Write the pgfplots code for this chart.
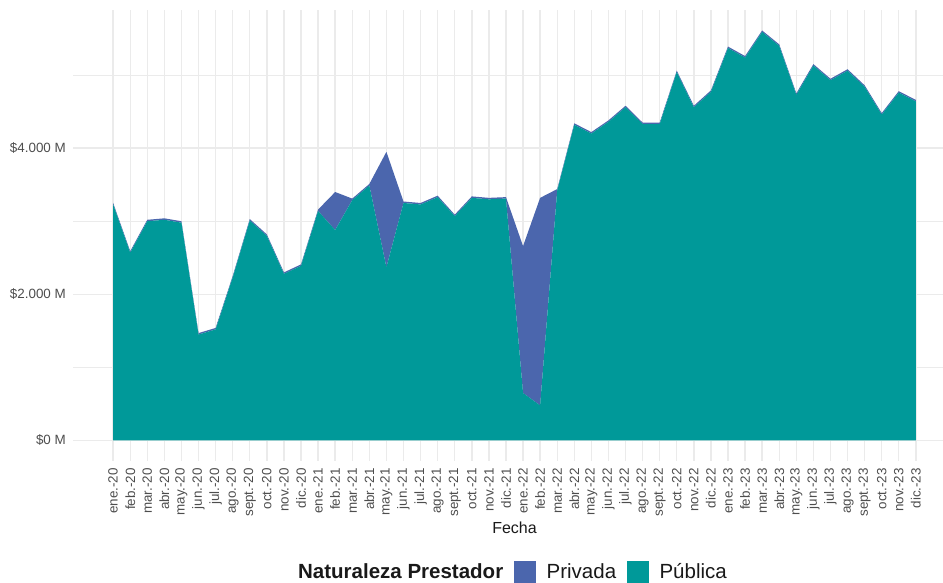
\documentclass[border=0pt]{standalone}
\usepackage{fontspec}
\setmainfont{Liberation Sans}
\usepackage{pgfplots}
\pgfplotsset{compat=1.18}
\usepackage{pgfplotstable}

\definecolor{publica}{RGB}{0,153,153}
\definecolor{privada}{RGB}{75,102,173}
\definecolor{gridgray}{RGB}{235,235,235}
\definecolor{ticktext}{RGB}{77,77,77}

% monto en millones, por mes (ene-20 = 0)
\pgfplotstableread{
idx publica privada
0  3230   20
1  2570   20
2  3000   20
3  3020   20
4  2980   20
5  1450   20
6  1520   20
7  2230   20
8  3010   20
9  2800   20
10 2280   20
11 2390   20
12 3140   20
13 2880  520
14 3290   20
15 3490   20
16 2370 1580
17 3250   20
18 3230   20
19 3330   20
20 3070   20
21 3320   20
22 3300   20
23 3310   20
24  650 2010
25  480 2840
26 3420   20
27 4320   20
28 4200   20
29 4360   20
30 4560   20
31 4330   20
32 4330   20
33 5040   20
34 4560   20
35 4770   20
36 5370   20
37 5240   20
38 5590   20
39 5400   20
40 4730   20
41 5130   20
42 4930   20
43 5060   20
44 4840   20
45 4460   20
46 4760   20
47 4640   20
}\datos

\begin{document}
\begin{tikzpicture}
\begin{axis}[
  at={(73bp,122bp)}, anchor=south west,
  scale only axis,
  width=883bp, height=451bp,
  xmin=-2.35, xmax=49.35,
  ymin=-280.5, ymax=5890.5,
  stack plots=y,
  axis line style={draw=none},
  major tick length=0pt, minor tick length=0pt,
  xtick={0,...,47},
  xticklabels={ene.-20,feb.-20,mar.-20,abr.-20,may.-20,jun.-20,jul.-20,ago.-20,sept.-20,oct.-20,nov.-20,dic.-20,
    ene.-21,feb.-21,mar.-21,abr.-21,may.-21,jun.-21,jul.-21,ago.-21,sept.-21,oct.-21,nov.-21,dic.-21,
    ene.-22,feb.-22,mar.-22,abr.-22,may.-22,jun.-22,jul.-22,ago.-22,sept.-22,oct.-22,nov.-22,dic.-22,
    ene.-23,feb.-23,mar.-23,abr.-23,may.-23,jun.-23,jul.-23,ago.-23,sept.-23,oct.-23,nov.-23,dic.-23},
  ytick={0,2000,4000},
  yticklabels={\$0 M,\$2.000 M,\$4.000 M},
  minor ytick={1000,3000,5000},
  grid=both,
  major grid style={draw=gridgray, line width=1.4bp},
  minor grid style={draw=gridgray, line width=0.8bp},
  tick label style={font=\fontsize{13.4bp}{15bp}\selectfont, text=ticktext, inner sep=0pt},
  xticklabel style={rotate=90, anchor=east},
  xticklabel shift=7bp,
  yticklabel style={anchor=east},
  yticklabel shift=7bp,
  xlabel={Fecha},
  xlabel style={at={(axis description cs:0.5,-0.1486)}, anchor=center,
    font=\fontsize{16bp}{18bp}\selectfont, text=black!90},
  legend columns=-1,
  legend style={at={(axis description cs:0.4915,-0.2461)}, anchor=center,
    draw=none, fill=none, inner sep=0pt,
    font=\fontsize{20.5bp}{24bp}\selectfont, text=black!90,
    nodes={inner sep=0pt},
    /tikz/every odd column/.append style={column sep=11bp},
    /tikz/every even column/.append style={column sep=11bp}},
]
\addplot[fill=publica, draw=none, forget plot] table[x=idx, y=publica] {\datos} \closedcycle;
\addplot[fill=privada, draw=none, forget plot] table[x=idx, y=privada] {\datos} \closedcycle;

\addlegendimage{empty legend}
\addlegendentry{\textbf{Naturaleza Prestador}}
\addlegendimage{legend image code/.code={\fill[privada] (0bp,-11bp) rectangle (21bp,10bp);}}
\addlegendentry{Privada}
\addlegendimage{legend image code/.code={\fill[publica] (0bp,-11bp) rectangle (21bp,10bp);}}
\addlegendentry{Pública}
\end{axis}
\pgfresetboundingbox
\path (0bp,0bp) rectangle (943bp,583bp);
\end{tikzpicture}
\end{document}
